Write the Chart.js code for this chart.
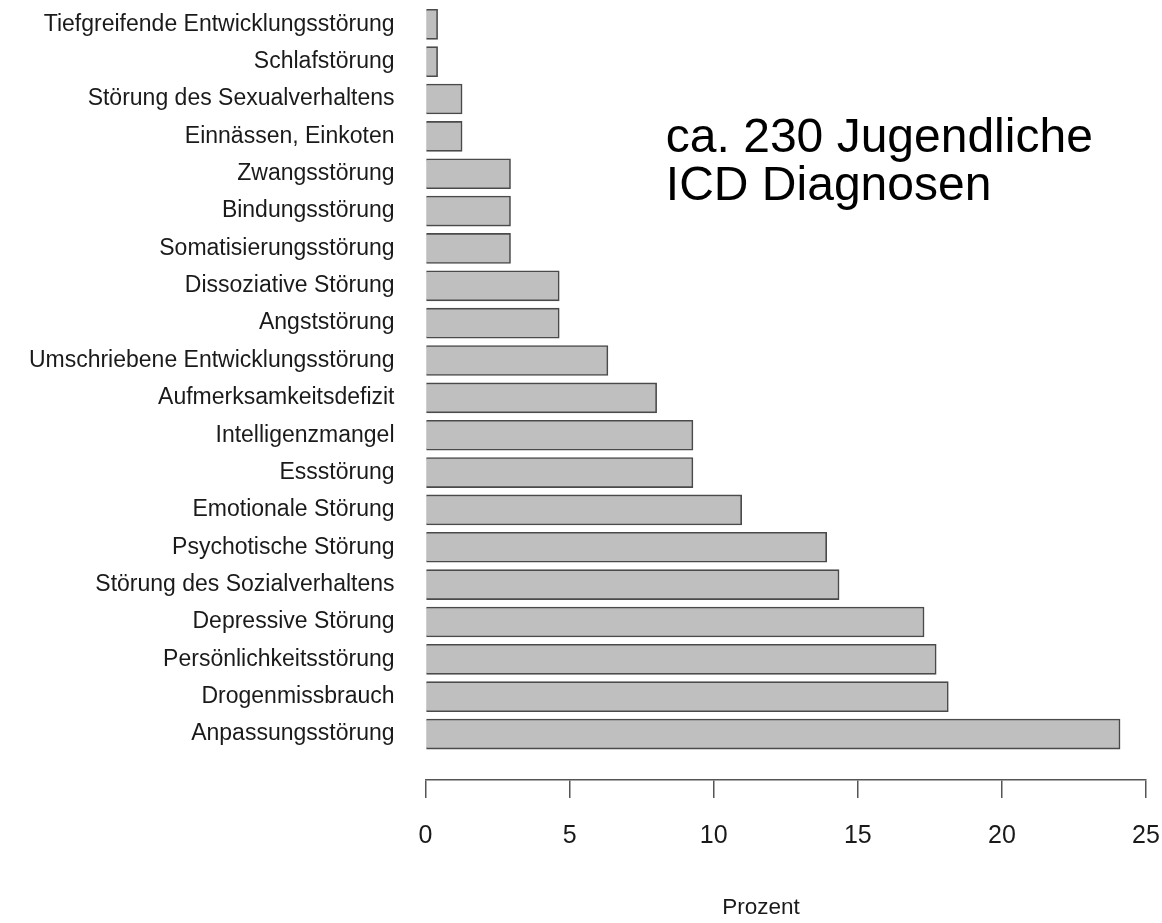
<!DOCTYPE html>
<html>
<head>
<meta charset="utf-8">
<style>
  html, body { margin: 0; padding: 0; background: #ffffff; }
  #wrap { width: 1162px; height: 923px; position: relative; }
</style>
<script src="https://cdn.jsdelivr.net/npm/chart.js@4.4.1/dist/chart.umd.min.js"></script>
</head>
<body>
<div id="wrap"><canvas id="chart"></canvas></div>
<script>
// ---- data (top to bottom as in the picture) ----
const categories = [
  'Tiefgreifende Entwicklungsstörung',
  'Schlafstörung',
  'Störung des Sexualverhaltens',
  'Einnässen, Einkoten',
  'Zwangsstörung',
  'Bindungsstörung',
  'Somatisierungsstörung',
  'Dissoziative Störung',
  'Angststörung',
  'Umschriebene Entwicklungsstörung',
  'Aufmerksamkeitsdefizit',
  'Intelligenzmangel',
  'Essstörung',
  'Emotionale Störung',
  'Psychotische Störung',
  'Störung des Sozialverhaltens',
  'Depressive Störung',
  'Persönlichkeitsstörung',
  'Drogenmissbrauch',
  'Anpassungsstörung'
];
const percentValues = [
  0.42, 0.42, 1.27, 1.27, 2.95, 2.95, 2.95, 4.64, 4.64, 6.33,
  8.02, 9.28, 9.28, 10.97, 13.92, 14.35, 17.30, 17.72, 18.14, 24.10
];
const xTickValues = [0, 5, 10, 15, 20, 25];
const axisTitle = 'Prozent';
const noteLines = ['ca. 230 Jugendliche', 'ICD Diagnosen'];

const FONT = '"Liberation Sans", Arial, Helvetica, sans-serif';

const textPlugin = {
  id: 'texts',
  afterDraw(chart) {
    const { ctx, scales } = chart;
    const x = scales.x, y = scales.y;
    ctx.save();
    // annotation
    ctx.font = '48px ' + FONT;
    ctx.fillStyle = '#000000';
    ctx.textAlign = 'left';
    ctx.textBaseline = 'alphabetic';
    const px = x.getPixelForValue(8.34);
    ctx.fillText(noteLines[0], px, y.getPixelForValue(3.43));
    ctx.fillText(noteLines[1], px, y.getPixelForValue(4.71));
    // axis title
    ctx.font = '22.5px ' + FONT;
    ctx.fillStyle = '#1a1a1a';
    ctx.textAlign = 'center';
    ctx.textBaseline = 'middle';
    ctx.fillText(axisTitle, x.getPixelForValue(11.64), x.bottom - 15);
    ctx.restore();
  }
};

new Chart(document.getElementById('chart'), {
  type: 'bar',
  data: {
    datasets: [{
      data: percentValues.map((v, i) => ({ x: v, y: i })),
      backgroundColor: '#bfbfbf',
      borderColor: '#4a4a4a',
      borderWidth: 1.6,
      barThickness: 30
    }]
  },
  options: {
    indexAxis: 'y',
    responsive: true,
    maintainAspectRatio: false,
    animation: false,
    events: [],
    layout: { padding: { left: 0, right: 16, top: 0, bottom: 0 } },
    plugins: { legend: { display: false }, tooltip: { enabled: false } },
    scales: {
      y: {
        type: 'linear',
        reverse: true,
        offset: false,
        min: -0.651,
        max: 20.23,
        grid: { display: false, drawTicks: false, tickLength: 0, offset: false },
        border: { display: false },
        afterBuildTicks(axis) {
          axis.ticks = categories.map((_, i) => ({ value: i }));
        },
        afterFit(axis) {
          axis.width = 425.5;
          axis.paddingTop = 0;
          axis.paddingBottom = 0;
        },
        ticks: {
          autoSkip: false,
          padding: 31,
          color: '#1a1a1a',
          font: { family: FONT, size: 23 },
          callback: (v) => categories[v] ?? ''
        }
      },
      x: {
        type: 'linear',
        min: 0,
        max: 25,
        afterBuildTicks(axis) {
          axis.ticks = xTickValues.map(v => ({ value: v }));
        },
        afterFit(axis) {
          axis.height = 143;
          axis.paddingLeft = 0;
          axis.paddingRight = 0;
        },
        grid: {
          drawOnChartArea: false,
          drawTicks: true,
          tickLength: 18,
          color: '#555555',
          lineWidth: 1.5
        },
        border: { display: true, color: '#555555', width: 1.5 },
        ticks: {
          autoSkip: false,
          maxRotation: 0,
          padding: 23,
          color: '#1a1a1a',
          font: { family: FONT, size: 25 },
          callback: (v) => String(v)
        },
        title: { display: false }
      }
    }
  },
  plugins: [textPlugin]
});
</script>
</body>
</html>
